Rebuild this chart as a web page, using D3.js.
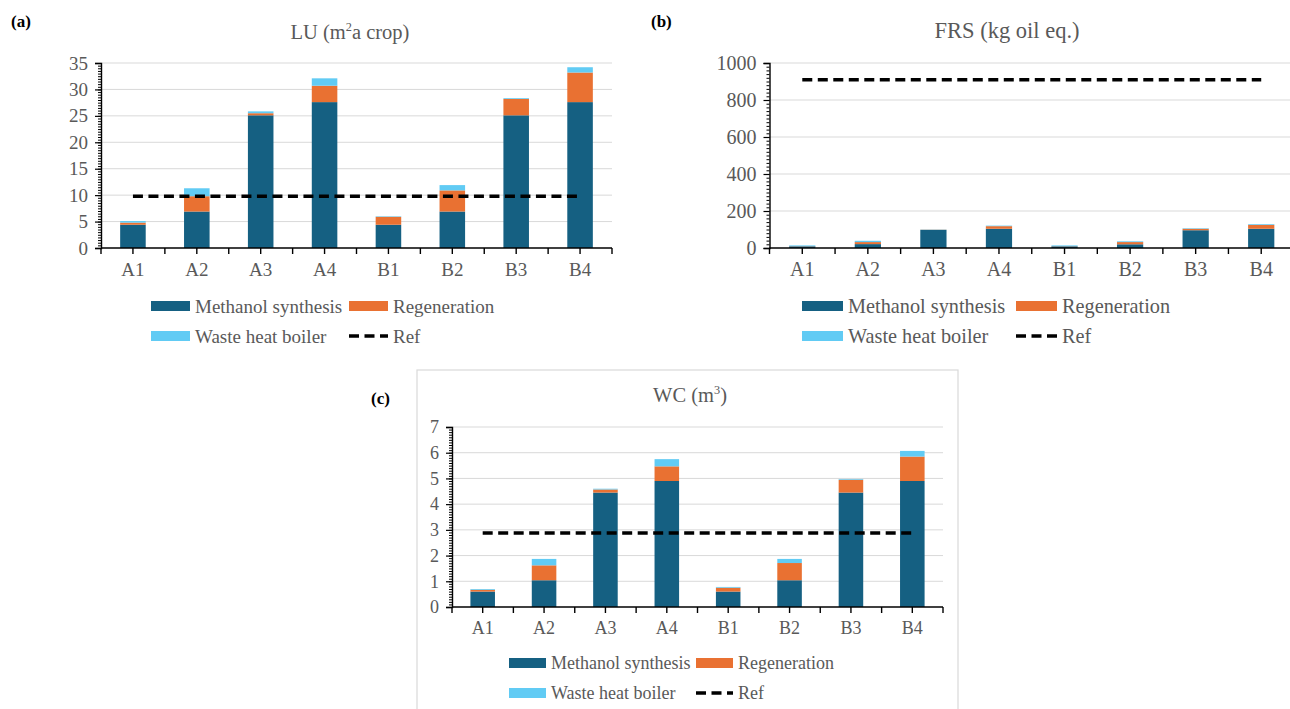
<!DOCTYPE html>
<html>
<head>
<meta charset="utf-8">
<script src="https://cdn.jsdelivr.net/npm/d3@7/dist/d3.min.js"></script>
<style>
  html, body { margin: 0; padding: 0; background: #fff; }
  svg, svg text { font-family: "Liberation Serif", "Times New Roman", serif; }
</style>
</head>
<body>
<svg id="chart" width="1290" height="709"></svg>
<script>
// ---------------- DATA ----------------
const categories = ["A1", "A2", "A3", "A4", "B1", "B2", "B3", "B4"];
const seriesNames = ["Methanol synthesis", "Regeneration", "Waste heat boiler"];
const refName = "Ref";

// LU (m2a crop)
const luMethanol = [4.4, 6.9, 25.1, 27.6, 4.4, 6.9, 25.1, 27.6];
const luRegeneration = [0.4, 2.9, 0.4, 3.1, 1.5, 4.0, 3.1, 5.6];
const luWaste = [0.3, 1.5, 0.35, 1.4, 0.1, 1.0, 0.15, 1.0];
const luRef = 9.8;
const luTicks = [0, 5, 10, 15, 20, 25, 30, 35];

// FRS (kg oil eq.)
const frsMethanol = [9, 21, 98, 104, 9, 20, 96, 104];
const frsRegeneration = [1, 11, 1, 14, 1, 12, 8, 21];
const frsWaste = [4, 7, 1, 3, 4, 4, 3, 4];
const frsRef = 910;
const frsTicks = [0, 200, 400, 600, 800, 1000];

// WC (m3)
const wcMethanol = [0.6, 1.04, 4.45, 4.9, 0.6, 1.04, 4.45, 4.9];
const wcRegeneration = [0.07, 0.58, 0.12, 0.57, 0.15, 0.67, 0.5, 0.95];
const wcWaste = [0.03, 0.25, 0.03, 0.28, 0.03, 0.16, 0.03, 0.22];
const wcRef = 2.88;
const wcTicks = [0, 1, 2, 3, 4, 5, 6, 7];

// ---------------- STYLE ----------------
const FONT = "'Liberation Serif', 'Times New Roman', serif";
const colors = ["#156082", "#E97132", "#61CBF4"];
const textGray = "#595959";
const gridGray = "#d9d9d9";

const svg = d3.select("#chart").attr("font-family", FONT);

// panel (c) frame
svg.append("rect")
  .attr("x", 417).attr("y", 370)
  .attr("width", 541).attr("height", 360)
  .attr("fill", "none").attr("stroke", gridGray).attr("stroke-width", 1.2);

function drawPanel(cfg) {
  const g = svg.append("g").attr("font-family", FONT);
  const x = d3.scaleBand().domain(categories)
    .range([cfg.x0, cfg.x1]).paddingInner(0.6).paddingOuter(0.3);
  const yMax = cfg.ticks[cfg.ticks.length - 1];
  const y = d3.scaleLinear().domain([0, yMax]).range([cfg.yBot, cfg.yTop]);

  // gridlines
  g.append("g").selectAll("line").data(cfg.ticks.slice(1)).join("line")
    .attr("x1", cfg.x0).attr("x2", cfg.x1)
    .attr("y1", d => y(d)).attr("y2", d => y(d))
    .attr("stroke", gridGray).attr("stroke-width", 1);

  // stacked bars
  const rows = categories.map((c, i) => ({
    cat: c, s0: cfg.series[0][i], s1: cfg.series[1][i], s2: cfg.series[2][i]
  }));
  const stack = d3.stack().keys(["s0", "s1", "s2"])(rows);
  g.append("g").selectAll("g").data(stack).join("g")
    .attr("fill", (d, i) => colors[i])
    .selectAll("rect").data(d => d).join("rect")
    .attr("x", d => x(d.data.cat))
    .attr("width", x.bandwidth())
    .attr("y", d => y(d[1]))
    .attr("height", d => y(d[0]) - y(d[1]));

  // ref line
  g.append("line")
    .attr("x1", x(categories[0]) + x.bandwidth() / 2)
    .attr("x2", x(categories[categories.length - 1]) + x.bandwidth() / 2)
    .attr("y1", y(cfg.ref)).attr("y2", y(cfg.ref))
    .attr("stroke", "#000").attr("stroke-width", 3.5)
    .attr("stroke-dasharray", "10,5.5");

  // y axis: minor ticks
  const minorStep = (cfg.ticks[1] - cfg.ticks[0]) / 10;
  const minorVals = d3.range(0, yMax + minorStep / 2, minorStep);
  g.append("g").attr("transform", `translate(${cfg.x0},0)`)
    .call(d3.axisLeft(y).tickValues(minorVals).tickSize(3).tickFormat(""))
    .call(a => a.select(".domain").remove())
    .call(a => a.selectAll("line").attr("stroke", "#000").attr("stroke-width", 1));
  // y axis: major ticks + labels
  g.append("g").attr("transform", `translate(${cfg.x0},0)`)
    .call(d3.axisLeft(y).tickValues(cfg.ticks).tickSize(6).tickPadding(7).tickFormat(d3.format("d")))
    .attr("font-family", FONT).attr("font-size", cfg.tickFont)
    .call(a => a.select(".domain").attr("stroke", "#000").attr("stroke-width", 1.4))
    .call(a => a.selectAll("line").attr("stroke", "#000").attr("stroke-width", 1.2))
    .call(a => a.selectAll("text")
      .attr("fill", textGray).attr("font-size", cfg.tickFont)
      .attr("font-family", FONT));

  // x axis
  const xa = g.append("g").attr("transform", `translate(0,${cfg.yBot})`);
  xa.append("line").attr("x1", cfg.x0).attr("x2", cfg.x1)
    .attr("stroke", "#000").attr("stroke-width", 1.5);
  const step = x.step();
  const offs = (step - x.bandwidth()) / 2;
  const tickPos = [];
  categories.forEach(c => {
    tickPos.push(x(c) - offs);
    tickPos.push(x(c) + x.bandwidth() / 2);
  });
  tickPos.push(cfg.x1);
  xa.selectAll("line.t").data(tickPos).join("line").attr("class", "t")
    .attr("x1", d => d).attr("x2", d => d).attr("y1", 0).attr("y2", 6)
    .attr("stroke", "#000").attr("stroke-width", 1.4);
  xa.selectAll("text").data(categories).join("text")
    .attr("x", d => x(d) + x.bandwidth() / 2)
    .attr("y", cfg.catY - cfg.yBot)
    .attr("text-anchor", "middle")
    .attr("font-family", FONT)
    .attr("fill", textGray).attr("font-size", cfg.tickFont)
    .text(d => d);

  // title
  const t = g.append("text")
    .attr("x", cfg.titleX).attr("y", cfg.titleY)
    .attr("text-anchor", "middle").attr("fill", textGray)
    .attr("font-family", FONT)
    .attr("font-size", cfg.titleFont);
  t.append("tspan").text(cfg.title[0]);
  if (cfg.title[1]) {
    t.append("tspan").attr("font-size", cfg.titleFont * 0.6).attr("dy", -cfg.titleFont * 0.38).text(cfg.title[1]);
    t.append("tspan").attr("dy", cfg.titleFont * 0.38).text(cfg.title[2]);
  }

  // panel label
  g.append("text").attr("x", cfg.labelX).attr("y", cfg.labelY)
    .attr("font-family", FONT)
    .attr("font-weight", "bold").attr("font-size", 17).attr("fill", "#000")
    .text(cfg.label);

  // legend
  const L = cfg.legend;
  const items = [
    { type: "rect", color: colors[0], name: seriesNames[0], x: L.c1, y: L.r1 },
    { type: "rect", color: colors[1], name: seriesNames[1], x: L.c2, y: L.r1 },
    { type: "rect", color: colors[2], name: seriesNames[2], x: L.c1, y: L.r2 },
    { type: "line", color: "#000", name: refName, x: L.c2, y: L.r2 }
  ];
  items.forEach(it => {
    if (it.type === "rect") {
      g.append("rect").attr("x", it.x).attr("y", it.y - 5)
        .attr("width", L.sw).attr("height", 10).attr("fill", it.color);
    } else {
      g.append("line").attr("x1", it.x).attr("x2", it.x + L.sw)
        .attr("y1", it.y).attr("y2", it.y)
        .attr("stroke", "#000").attr("stroke-width", 3.5)
        .attr("stroke-dasharray", "10,5.5");
    }
    g.append("text").attr("x", it.x + L.sw + 5).attr("y", it.y)
      .attr("dy", "0.35em").attr("fill", textGray)
      .attr("font-family", FONT)
      .attr("font-size", L.font).text(it.name);
  });
}

drawPanel({
  series: [luMethanol, luRegeneration, luWaste], ref: luRef, ticks: luTicks,
  x0: 101, x1: 612, yTop: 63, yBot: 248, catY: 276,
  tickFont: 19, title: ["LU (m", "2", "a crop)"], titleX: 350, titleY: 39, titleFont: 20.5,
  label: "(a)", labelX: 11, labelY: 27,
  legend: { c1: 151, c2: 349, r1: 306, r2: 336, sw: 39, font: 19 }
});

drawPanel({
  series: [frsMethanol, frsRegeneration, frsWaste], ref: frsRef, ticks: frsTicks,
  x0: 769.5, x1: 1294, yTop: 63, yBot: 248, catY: 276,
  tickFont: 20, title: ["FRS (kg oil eq.)", "", ""], titleX: 1007, titleY: 38, titleFont: 22.5,
  label: "(b)", labelX: 651, labelY: 27,
  legend: { c1: 802, c2: 1016, r1: 306, r2: 336, sw: 41, font: 20.3 }
});

drawPanel({
  series: [wcMethanol, wcRegeneration, wcWaste], ref: wcRef, ticks: wcTicks,
  x0: 452, x1: 943, yTop: 427, yBot: 607, catY: 634,
  tickFont: 18, title: ["WC (m", "3", ")"], titleX: 690, titleY: 402, titleFont: 20.5,
  label: "(c)", labelX: 371, labelY: 404,
  legend: { c1: 509, c2: 696, r1: 663, r2: 693, sw: 37, font: 18 }
});
</script>
</body>
</html>
